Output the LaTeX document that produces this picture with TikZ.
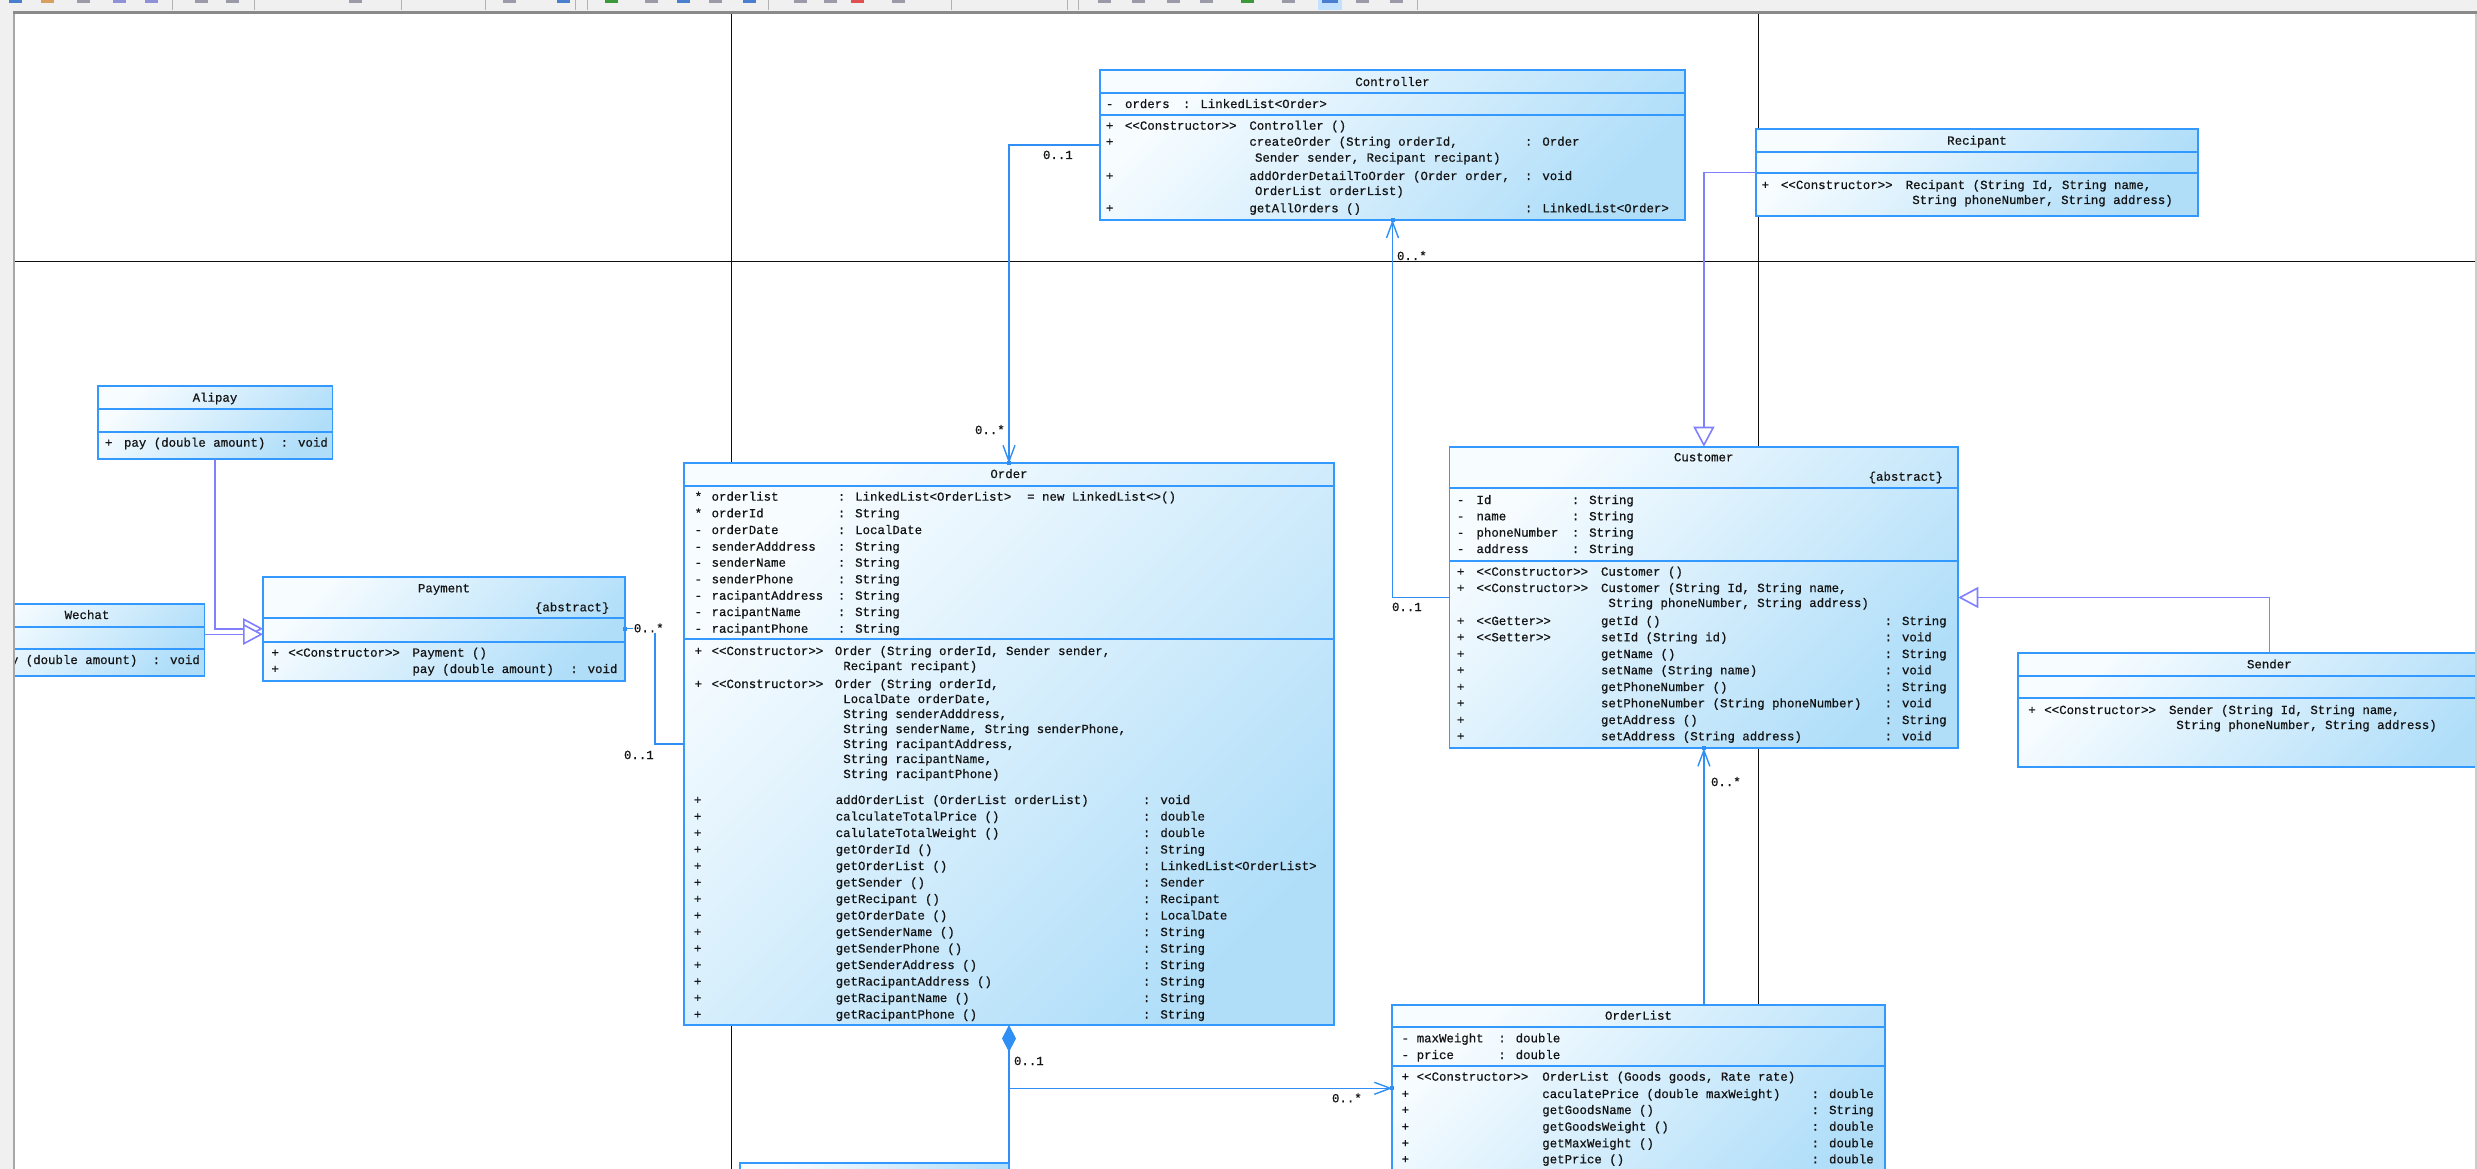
\documentclass[tikz,border=0pt]{standalone}
\usepackage{fontspec}
\newfontfamily\uml[FakeBold=0.6]{Liberation Mono}
\usetikzlibrary{arrows.meta}
\definecolor{cborder}{HTML}{3399FF}
\definecolor{cassoc}{HTML}{2F8FF5}
\definecolor{cgen}{HTML}{8080FF}
\definecolor{cfA}{HTML}{F7FCFF}
\definecolor{cfB}{HTML}{B0DEF9}
\definecolor{cgrid}{HTML}{101010}
\definecolor{ctext}{HTML}{141414}
\definecolor{tbgray}{HTML}{F0F0F0}
\definecolor{tbline}{HTML}{8A8A8A}
\definecolor{icgray}{HTML}{9A9AA8}
\definecolor{icblue}{HTML}{4A7FD0}
\definecolor{icpurple}{HTML}{9090D8}
\definecolor{icgreen}{HTML}{3A9A3A}
\definecolor{icred}{HTML}{E05050}
\definecolor{icorange}{HTML}{D8A060}
\newcounter{rowc}
\newcommand\R[3]{\stepcounter{rowc}\node[txt,anchor=base west] (t\arabic{rowc}) at (#1,#2+4) {#3};}
\newcommand\T[3]{\stepcounter{rowc}\node[txt,anchor=base] (t\arabic{rowc}) at (#1,#2+4) {#3};}
\newcommand\E[3]{\stepcounter{rowc}\node[txt,anchor=base east] (t\arabic{rowc}) at (#1,#2+4) {#3};}
\tikzset{
  txt/.style={font=\uml\fontsize{12.4}{14}\selectfont, text=ctext, inner sep=0pt, outer sep=0pt},
  classbox/.style={draw=cborder, line width=1.7pt, top color=cfA, bottom color=cfB, shading angle=45, inner sep=0pt, outer sep=0pt, anchor=north west},
  sepline/.style={draw=cborder, line width=1.7pt},
  assoc/.style={draw=cassoc, line width=1.4pt},
  barb/.style={-{Straight Barb[length=16pt,width=12pt]}},
  gen/.style={draw=cgen, line width=1.6pt, -{Triangle[open,length=20pt,width=21pt,fill=white]}},
  gridline/.style={draw=cgrid, line width=1.8pt},
  mult/.style={txt, anchor=base west},
  endsq/.style={fill=cassoc, inner sep=0pt, minimum size=4pt, draw=none}
}
\begin{document}
\begin{tikzpicture}[x=1pt,y=-1pt]
\useasboundingbox (0,0) rectangle (2477,1169);
\clip (0,0) rectangle (2477,1169);
\fill[white] (0,0) rectangle (2477,1169);
% page grid lines
\draw[gridline] (731.5,14) -- (731.5,1169);
\draw[gridline] (1758.5,14) -- (1758.5,1169);
\draw[gridline] (14,261.5) -- (2477,261.5);

% ---------- class boxes ----------
\node[classbox, minimum width=585pt, minimum height=150pt] (ctrl) at (1100,70) {};
\draw[sepline] (1100,93) -- (1685,93) (1100,115) -- (1685,115);
\node[classbox, minimum width=442.3pt, minimum height=86.7pt] (recip) at (1755.7,129) {};
\draw[sepline] (1755.7,151.7) -- (2198,151.7) (1755.7,173.3) -- (2198,173.3);
\node[classbox, minimum width=508.8pt, minimum height=301.6pt] (cust) at (1449.5,446.7) {};
\draw[sepline] (1449.5,488.3) -- (1958.3,488.3) (1449.5,560.7) -- (1958.3,560.7);
\node[classbox, minimum width=503.3pt, minimum height=114pt] (sender) at (2017.7,653.3) {};
\draw[sepline] (2017.7,675.7) -- (2521,675.7) (2017.7,698.3) -- (2521,698.3);
\node[classbox, minimum width=234.5pt, minimum height=73pt] (alipay) at (98,386) {};
\draw[sepline] (98,409.3) -- (332.5,409.3) (98,431.7) -- (332.5,431.7);
\node[classbox, minimum width=234.5pt, minimum height=71.7pt] (wechat) at (-30,604.3) {};
\draw[sepline] (-30,626.7) -- (204.5,626.7) (-30,649.3) -- (204.5,649.3);
\node[classbox, minimum width=362pt, minimum height=104pt] (pay) at (263,576.7) {};
\draw[sepline] (263,618.3) -- (625,618.3) (263,641.7) -- (625,641.7);
\node[classbox, minimum width=650pt, minimum height=561.7pt] (order) at (684,463.3) {};
\draw[sepline] (684,485.7) -- (1334,485.7) (684,639.3) -- (1334,639.3);
\node[classbox, minimum width=492.7pt, minimum height=200pt] (olist) at (1392.3,1005) {};
\draw[sepline] (1392.3,1027.3) -- (1885,1027.3) (1392.3,1065.7) -- (1885,1065.7);
\node[classbox, minimum width=269pt, minimum height=50pt] (goods) at (740,1163) {};

% ---------- connectors ----------
\draw[assoc, barb] (ctrl.west) -| (order.north);
\draw[assoc, barb] (cust.west) -| (ctrl.south);
\draw[assoc, barb] (cust.south |- olist.north) -- (cust.south);
\draw[assoc, {Diamond[length=27pt,width=14pt]}-] (order.south) -- (goods.north east);
\coordinate (ojoin) at (1009,1088.3);
\draw[assoc, barb] (ojoin) -- (olist.west |- ojoin);
\draw[assoc] (pay.east) -- ++(30,0) |- (order.west);
\draw[gen] (alipay.south) |- (pay.west);
\coordinate (pw2) at (263,634.3);
\draw[gen] (wechat.east |- pw2) -- (pw2);
\draw[gen] (recip.west) -| (cust.north);
\draw[gen] (sender.north) |- (cust.east);
\node[endsq] (sq1) at (order.north) {};
\node[endsq] (sq2) at (ctrl.south) {};
\node[endsq] (sq3) at (cust.south) {};
\node[endsq] (sq4) at (olist.west |- ojoin) {};
\node[endsq] (sq5) at (pay.east) {};

% multiplicities
\node[mult] (m1) at (1043,159) {0..1};
\node[mult] (m2) at (975,434) {0..*};
\node[mult] (m3) at (1397,260) {0..*};
\node[mult] (m4) at (1392,611) {0..1};
\node[mult] (m5) at (1711,786) {0..*};
\node[mult] (m6) at (1014,1065) {0..1};
\node[mult] (m7) at (1332,1102.3) {0..*};
\node[mult, fill=white, inner sep=0.5pt] (m8) at (633.4,632.3) {0..*};
\node[mult] (m9) at (624,759) {0..1};

% ---------- Controller ----------
\T{1392.5}{82}{Controller}
\R{1106}{104}{-}\R{1125}{104}{orders}\R{1183}{104}{: LinkedList<Order>}
\R{1106}{125.7}{+}\R{1125}{125.7}{<<Constructor>>}\R{1249.4}{125.7}{Controller ()}
\R{1106}{141.7}{+}\R{1249.4}{141.7}{createOrder (String orderId,}\R{1525}{141.7}{: Order}
\R{1255}{157.7}{Sender sender, Recipant recipant)}
\R{1106}{176}{+}\R{1249.4}{176}{addOrderDetailToOrder (Order order,}\R{1525}{176}{: void}
\R{1255}{191}{OrderList orderList)}
\R{1106}{208.3}{+}\R{1249.4}{208.3}{getAllOrders ()}\R{1525}{208.3}{: LinkedList<Order>}

% ---------- Recipant ----------
\T{1977}{140.7}{Recipant}
\R{1761.7}{185}{+}\R{1781}{185}{<<Constructor>>}\R{1905.7}{185}{Recipant (String Id, String name,}
\R{1912.3}{200}{String phoneNumber, String address)}

% ---------- Customer ----------
\T{1703.7}{457.3}{Customer}
\E{1943}{476.7}{\{abstract\}}
\R{1457}{500}{-}\R{1476.5}{500}{Id}\R{1571.8}{500}{: String}
\R{1457}{516.3}{-}\R{1476.5}{516.3}{name}\R{1571.8}{516.3}{: String}
\R{1457}{532.7}{-}\R{1476.5}{532.7}{phoneNumber}\R{1571.8}{532.7}{: String}
\R{1457}{549}{-}\R{1476.5}{549}{address}\R{1571.8}{549}{: String}
\R{1457}{571.7}{+}\R{1476.5}{571.7}{<<Constructor>>}\R{1601}{571.7}{Customer ()}
\R{1457}{588}{+}\R{1476.5}{588}{<<Constructor>>}\R{1601}{588}{Customer (String Id, String name,}
\R{1608.4}{603}{String phoneNumber, String address)}
\R{1457}{621}{+}\R{1476.5}{621}{<<Getter>>}\R{1601}{621}{getId ()}\R{1884.6}{621}{: String}
\R{1457}{637.3}{+}\R{1476.5}{637.3}{<<Setter>>}\R{1601}{637.3}{setId (String id)}\R{1884.6}{637.3}{: void}
\R{1457}{654}{+}\R{1601}{654}{getName ()}\R{1884.6}{654}{: String}
\R{1457}{670.3}{+}\R{1601}{670.3}{setName (String name)}\R{1884.6}{670.3}{: void}
\R{1457}{687}{+}\R{1601}{687}{getPhoneNumber ()}\R{1884.6}{687}{: String}
\R{1457}{703.3}{+}\R{1601}{703.3}{setPhoneNumber (String phoneNumber)}\R{1884.6}{703.3}{: void}
\R{1457}{720}{+}\R{1601}{720}{getAddress ()}\R{1884.6}{720}{: String}
\R{1457}{736.3}{+}\R{1601}{736.3}{setAddress (String address)}\R{1884.6}{736.3}{: void}

% ---------- Sender ----------
\T{2269.3}{664.3}{Sender}
\R{2028.3}{710}{+}\R{2044.3}{710}{<<Constructor>>}\R{2169}{710}{Sender (String Id, String name,}
\R{2176.3}{725}{String phoneNumber, String address)}

% ---------- Alipay ----------
\T{215}{397.7}{Alipay}
\R{105}{442.7}{+}\R{124}{442.7}{pay (double amount)}\R{280.7}{442.7}{: void}

% ---------- Wechat ----------
\T{87}{615}{Wechat}
\R{-23}{660}{+}\R{-4}{660}{pay (double amount)}\R{152.7}{660}{: void}

% ---------- Payment ----------
\T{444}{588.3}{Payment}
\E{609.4}{607.3}{\{abstract\}}
\R{271.5}{652.7}{+}\R{288.3}{652.7}{<<Constructor>>}\R{412.5}{652.7}{Payment ()}
\R{271.5}{669}{+}\R{412.5}{669}{pay (double amount)}\R{570.3}{669}{: void}

% ---------- Order ----------
\T{1009}{474}{Order}
\R{694.7}{496.7}{*}\R{711.6}{496.7}{orderlist}\R{837.8}{496.7}{: LinkedList<OrderList>}\R{1027.2}{496.7}{= new LinkedList<>()}
\R{694.7}{513.3}{*}\R{711.6}{513.3}{orderId}\R{837.8}{513.3}{: String}
\R{694.7}{530}{-}\R{711.6}{530}{orderDate}\R{837.8}{530}{: LocalDate}
\R{694.7}{546.7}{-}\R{711.6}{546.7}{senderAdddress}\R{837.8}{546.7}{: String}
\R{694.7}{562.7}{-}\R{711.6}{562.7}{senderName}\R{837.8}{562.7}{: String}
\R{694.7}{579.3}{-}\R{711.6}{579.3}{senderPhone}\R{837.8}{579.3}{: String}
\R{694.7}{595.7}{-}\R{711.6}{595.7}{racipantAddress}\R{837.8}{595.7}{: String}
\R{694.7}{612}{-}\R{711.6}{612}{racipantName}\R{837.8}{612}{: String}
\R{694.7}{628.7}{-}\R{711.6}{628.7}{racipantPhone}\R{837.8}{628.7}{: String}
\R{694.7}{651}{+}\R{711.6}{651}{<<Constructor>>}\R{834.9}{651}{Order (String orderId, Sender sender,}
\R{843.3}{666}{Recipant recipant)}
\R{694.7}{684}{+}\R{711.6}{684}{<<Constructor>>}\R{834.9}{684}{Order (String orderId,}
\R{843.3}{699}{LocalDate orderDate,}
\R{843.3}{714}{String senderAdddress,}
\R{843.3}{729}{String senderName, String senderPhone,}
\R{843.3}{744}{String racipantAddress,}
\R{843.3}{759}{String racipantName,}
\R{843.3}{774}{String racipantPhone)}
\R{694}{800}{+}\R{835.7}{800}{addOrderList (OrderList orderList)}\R{1143}{800}{: void}
\R{694}{816.5}{+}\R{835.7}{816.5}{calculateTotalPrice ()}\R{1143}{816.5}{: double}
\R{694}{833}{+}\R{835.7}{833}{calulateTotalWeight ()}\R{1143}{833}{: double}
\R{694}{849.5}{+}\R{835.7}{849.5}{getOrderId ()}\R{1143}{849.5}{: String}
\R{694}{866}{+}\R{835.7}{866}{getOrderList ()}\R{1143}{866}{: LinkedList<OrderList>}
\R{694}{882.5}{+}\R{835.7}{882.5}{getSender ()}\R{1143}{882.5}{: Sender}
\R{694}{899}{+}\R{835.7}{899}{getRecipant ()}\R{1143}{899}{: Recipant}
\R{694}{915.5}{+}\R{835.7}{915.5}{getOrderDate ()}\R{1143}{915.5}{: LocalDate}
\R{694}{932}{+}\R{835.7}{932}{getSenderName ()}\R{1143}{932}{: String}
\R{694}{948.5}{+}\R{835.7}{948.5}{getSenderPhone ()}\R{1143}{948.5}{: String}
\R{694}{965}{+}\R{835.7}{965}{getSenderAddress ()}\R{1143}{965}{: String}
\R{694}{981.5}{+}\R{835.7}{981.5}{getRacipantAddress ()}\R{1143}{981.5}{: String}
\R{694}{998}{+}\R{835.7}{998}{getRacipantName ()}\R{1143}{998}{: String}
\R{694}{1014.5}{+}\R{835.7}{1014.5}{getRacipantPhone ()}\R{1143}{1014.5}{: String}

% ---------- OrderList ----------
\T{1638.5}{1015.7}{OrderList}
\R{1401.7}{1038.3}{-}\R{1416.7}{1038.3}{maxWeight}\R{1498.3}{1038.3}{: double}
\R{1401.7}{1055}{-}\R{1416.7}{1055}{price}\R{1498.3}{1055}{: double}
\R{1401.7}{1076.7}{+}\R{1416.7}{1076.7}{<<Constructor>>}\R{1542.3}{1076.7}{OrderList (Goods goods, Rate rate)}
\R{1401.7}{1094}{+}\R{1542.3}{1094}{caculatePrice (double maxWeight)}\R{1811.7}{1094}{: double}
\R{1401.7}{1110}{+}\R{1542.3}{1110}{getGoodsName ()}\R{1811.7}{1110}{: String}
\R{1401.7}{1126.7}{+}\R{1542.3}{1126.7}{getGoodsWeight ()}\R{1811.7}{1126.7}{: double}
\R{1401.7}{1143.3}{+}\R{1542.3}{1143.3}{getMaxWeight ()}\R{1811.7}{1143.3}{: double}
\R{1401.7}{1159.3}{+}\R{1542.3}{1159.3}{getPrice ()}\R{1811.7}{1159.3}{: double}

% ---------- window frame ----------
\fill[tbgray] (0,0) rectangle (2477,11.5);
\fill[tbline] (0,11.5) rectangle (2477,14);
\fill[tbgray] (0,11.5) rectangle (12.5,1169);
\fill[black!35] (12.5,14) rectangle (14.5,1169);
\fill[black!20] (2475,14) rectangle (2477,1169);
\foreach \x/\c in {9/icblue,41/icorange,77/icgray,113/icpurple,145/icpurple,195/icgray,226/icgray,349/icgray,503/icgray,557/icblue,605/icgreen,645/icgray,677/icblue,709/icgray,743/icblue,794/icgray,824/icgray,851/icred,892/icgray,1098/icgray,1132/icgray,1167/icgray,1200/icgray,1241/icgreen,1282/icgray,1356/icgray,1390/icgray}
  \fill[\c] (\x,0) rectangle (\x+13,3.5);
\fill[cborder!30] (1318,0) rectangle (1342,10);
\fill[icblue] (1322,0) rectangle (1338,3.5);
\foreach \x in {172,254,401,485,575,587,768,951,1067,1078,1417}
  \draw[black!30, line width=1pt] (\x,0) -- (\x,10);
\end{tikzpicture}
\end{document}
